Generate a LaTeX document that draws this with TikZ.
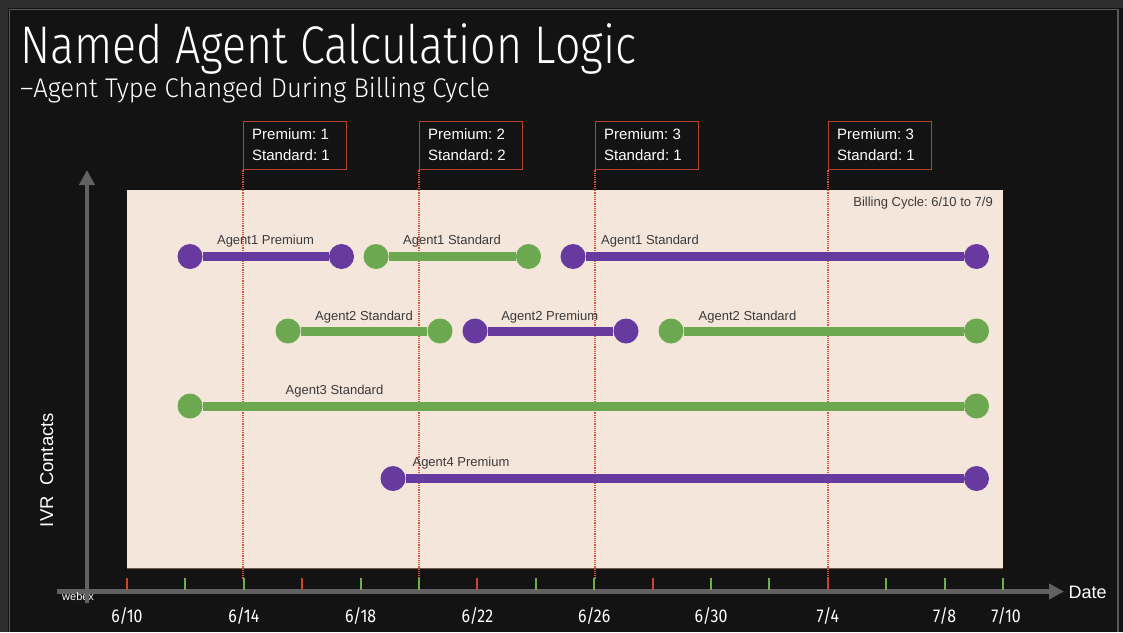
\documentclass[tikz,border=0pt]{standalone}
\usepackage{fontspec}
\usepackage{graphicx}
\setmainfont{Liberation Sans}
\newfontfamily\thinfont{Fira Sans}[UprightFont=* Light]
\newfontfamily\datefont{Fira Sans}
\usetikzlibrary{arrows.meta}
\definecolor{bg}{HTML}{131313}
\definecolor{frame}{HTML}{2E2E2E}
\definecolor{frameline}{HTML}{5A5A5A}
\definecolor{panel}{HTML}{F5E6DB}
\definecolor{paneledge}{HTML}{6E5A4E}
\definecolor{purp}{HTML}{663A9E}
\definecolor{grn}{HTML}{6CA84F}
\definecolor{redline}{HTML}{E0553A}
\definecolor{boxred}{HTML}{B4452B}
\definecolor{axisgray}{HTML}{616161}
\definecolor{tickred}{HTML}{C8452C}
\definecolor{tickgrn}{HTML}{6DB04A}
\definecolor{labeltext}{HTML}{3A3A3A}
\frenchspacing
\begin{document}
\begin{tikzpicture}[x=1pt,y=-1pt,
  dot/.style={circle,inner sep=0pt,minimum size=25pt},
  pdot/.style={dot,fill=purp},
  gdot/.style={dot,fill=grn},
  pbar/.style={purp,line width=9pt},
  gbar/.style={grn,line width=9pt},
  alabel/.style={anchor=base,font=\fontsize{13}{13}\selectfont,text=labeltext,inner sep=0pt},
  cbox/.style={draw=boxred,line width=1.3pt,fill=bg,minimum width=103pt,minimum height=48pt,anchor=north west,inner sep=0pt},
  ctext/.style={anchor=base west,text=white,font=\fontsize{15}{15}\selectfont,inner sep=0pt},
  vline/.style={redline,line width=1.2pt,dash pattern=on 1.2pt off 1pt},
  tickr/.style={tickred,line width=2pt},
  tickg/.style={tickgrn,line width=2pt},
  axis/.style={axisgray,line width=4.5pt},
  datelabel/.style={anchor=base,text=white,inner sep=0pt},
]
\useasboundingbox (0,0) rectangle (1123,632);
% background and frame
\fill[bg] (0,0) rectangle (1123,632);
\fill[frame] (0,0) rectangle (1123,8);
\fill[frame] (0,0) rectangle (8,632);
\draw[frameline,line width=1.5pt] (9.5,632) -- (9.5,9.5) -- (1118,9.5) -- (1118,632);

% titles
\node[anchor=base west,inner sep=0pt,text=white] (title) at (20,63)
  {\resizebox{616pt}{\height}{\thinfont\fontsize{53}{53}\selectfont Named Agent Calculation Logic}};
\node[anchor=base west,inner sep=0pt,text=white] (subtitle) at (20,97)
  {\resizebox{470pt}{\height}{\thinfont\fontsize{27}{27}\selectfont \textendash Agent Type Changed During Billing Cycle}};

% panel
\fill[panel] (127,190) rectangle (1003,569);
\draw[paneledge,line width=1pt] (127,568.5) -- (1003,568.5);
\node[anchor=base east,font=\fontsize{13}{13}\selectfont,text=labeltext,inner sep=0pt] (cycle) at (993,206.7) {Billing Cycle: 6/10 to 7/9};

% count boxes
\node[cbox] (bx1) at (243,121) {};
\node[cbox] (bx2) at (419,121) {};
\node[cbox] (bx3) at (595,121) {};
\node[cbox] (bx4) at (828,121) {};
\node[ctext] (p1) at (252,139) {Premium: 1};
\node[ctext] (s1) at (252,160) {Standard: 1};
\node[ctext] (p2) at (428,139) {Premium: 2};
\node[ctext] (s2) at (428,160) {Standard: 2};
\node[ctext] (p3) at (604,139) {Premium: 3};
\node[ctext] (s3) at (604,160) {Standard: 1};
\node[ctext] (p4) at (837,139) {Premium: 3};
\node[ctext] (s4) at (837,160) {Standard: 1};

% dotted markers
\coordinate (tk) at (0,579);
\draw[vline] (bx1.south west) -- (bx1.south west |- tk);
\draw[vline] (bx2.south west) -- (bx2.south west |- tk);
\draw[vline] (bx3.south west) -- (bx3.south west |- tk);
\draw[vline] (bx4.south west) -- (bx4.south west |- tk);

% x axis
\coordinate (xs) at (57,591.5);
\coordinate (xe) at (1064,591.5);
\draw[axis,-{Triangle[length=15pt,width=15pt]}] (xs) -- (xe);
\node[anchor=base,text=white,font=\fontsize{18}{18}\selectfont,inner sep=0pt] (date) at (1087.5,598) {Date};

% ticks
\foreach \i in {0,...,15}{
  \pgfmathsetmacro{\xx}{127+\i*58.4}
  \pgfmathtruncatemacro{\isred}{(\i==0)||(\i==3)||(\i==6)||(\i==9)||(\i==12)}
  \ifnum\isred=1
    \draw[tickr] (\xx,578) -- (\xx,590);
  \else
    \draw[tickg] (\xx,578) -- (\xx,590);
  \fi
}

% date labels
\newcommand{\dlab}[1]{\scalebox{0.86}[1]{\datefont\fontsize{18.5}{18.5}\selectfont #1}}
\node[datelabel] (d1) at (127,622.7) {\dlab{6/10}};
\node[datelabel] (d2) at (243.8,622.7) {\dlab{6/14}};
\node[datelabel] (d3) at (360.6,622.7) {\dlab{6/18}};
\node[datelabel] (d4) at (477.4,622.7) {\dlab{6/22}};
\node[datelabel] (d5) at (594.2,622.7) {\dlab{6/26}};
\node[datelabel] (d6) at (711,622.7) {\dlab{6/30}};
\node[datelabel] (d7) at (827.8,622.7) {\dlab{7/4}};
\node[datelabel] (d8) at (944.6,622.7) {\dlab{7/8}};
\node[datelabel] (d9) at (1006,622.7) {\dlab{7/10}};

% webex + y axis
\node[anchor=base west,text=white,font=\fontsize{11}{11}\selectfont,inner sep=0pt] (webex) at (62,600.5) {webex};
\coordinate (ys) at (87,603);
\coordinate (ye) at (87,170);
\draw[axis,-{Triangle[length=15pt,width=15pt]}] (ys) -- (ye);
\node[rotate=90,anchor=base,text=white,font=\fontsize{18.5}{18.5}\selectfont,inner sep=0pt] (ivr) at (53,470) {IVR\ \ Contacts};

% agent rows
\node[pdot] (a1) at (190,256.5) {};
\node[pdot] (a2) at (341.5,256.5) {};
\node[gdot] (a3) at (376,256.5) {};
\node[gdot] (a4) at (528.5,256.5) {};
\node[pdot] (a5) at (573,256.5) {};
\node[pdot] (a6) at (976.5,256.5) {};
\draw[pbar] (a1) -- (a2);
\draw[gbar] (a3) -- (a4);
\draw[pbar] (a5) -- (a6);
\node[alabel] (l1) at (265.5,244.5) {Agent1 Premium};
\node[alabel] (l2) at (452,244.5) {Agent1 Standard};
\node[alabel] (l3) at (650,244.5) {Agent1 Standard};

\node[gdot] (b1s) at (288,331) {};
\node[gdot] (b1e) at (440,331) {};
\node[pdot] (b2s) at (475,331) {};
\node[pdot] (b2e) at (626,331) {};
\node[gdot] (b3s) at (671,331) {};
\node[gdot] (b3e) at (976.5,331) {};
\draw[gbar] (b1s) -- (b1e);
\draw[pbar] (b2s) -- (b2e);
\draw[gbar] (b3s) -- (b3e);
\node[alabel] (m1) at (364,320) {Agent2 Standard};
\node[alabel] (m2) at (549.7,320) {Agent2 Premium};
\node[alabel] (m3) at (747.5,320) {Agent2 Standard};

\node[gdot] (c1s) at (190,406) {};
\node[gdot] (c1e) at (976.5,406) {};
\draw[gbar] (c1s) -- (c1e);
\node[alabel] (n1) at (334.5,394) {Agent3 Standard};

\node[pdot] (e1s) at (393,478.5) {};
\node[pdot] (e1e) at (976.5,478.5) {};
\draw[pbar] (e1s) -- (e1e);
\node[alabel] (o1) at (461,466.7) {Agent4 Premium};
\end{tikzpicture}
\end{document}
